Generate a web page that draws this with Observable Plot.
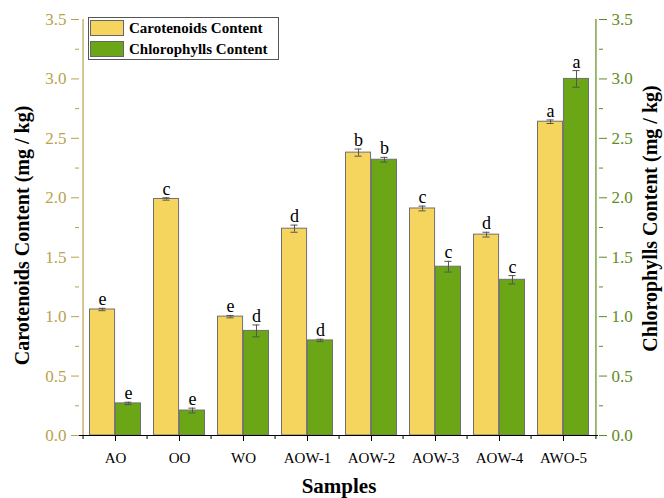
<!DOCTYPE html>
<html>
<head>
<meta charset="utf-8">
<script src="https://cdn.jsdelivr.net/npm/d3@7"></script>
<script src="https://cdn.jsdelivr.net/npm/@observablehq/plot@0.6"></script>
<style>
  body { margin: 0; background: #fff; }
  #wrap { position: relative; width: 664px; height: 498px; overflow: hidden; font-family: "Liberation Serif", "Times New Roman", serif; }
  #wrap svg { font-family: "Liberation Serif", "Times New Roman", serif; }
  .legend { position: absolute; left: 88px; top: 17px; width: 189px; height: 41px; border: 1.5px solid #555; background: #fff; }
  .legend .row { position: absolute; left: 1px; height: 18px; display: flex; align-items: center; }
  .legend .sw { width: 34px; height: 16px; border: 1px solid #666; box-sizing: border-box; margin-right: 5px; }
  .legend .lab { font-weight: bold; font-size: 15px; color: #000; white-space: nowrap; }
</style>
</head>
<body>
<div id="wrap"></div>
<script>
const samples = ["AO", "OO", "WO", "AOW-1", "AOW-2", "AOW-3", "AOW-4", "AWO-5"];
const carotenoids = [1.06, 1.99, 1.00, 1.74, 2.38, 1.91, 1.69, 2.64];
const carotenoidsErr = [0.01, 0.01, 0.01, 0.03, 0.03, 0.02, 0.02, 0.015];
const carotenoidsLetters = ["e", "c", "e", "d", "b", "c", "d", "a"];
const chlorophylls = [0.27, 0.21, 0.88, 0.80, 2.32, 1.42, 1.31, 3.00];
const chlorophyllsErr = [0.01, 0.02, 0.05, 0.01, 0.02, 0.045, 0.035, 0.07];
const chlorophyllsLetters = ["e", "e", "d", "d", "b", "c", "c", "a"];
const yTicks = [0, 0.5, 1.0, 1.5, 2.0, 2.5, 3.0, 3.5];
const yMinorTicks = [0.25, 0.75, 1.25, 1.75, 2.25, 2.75, 3.25];

const yellow = "#F5D55E";
const green = "#6AA616";
const gold = "#B9A24C";
const axisGreen = "#5E8C1C";
const barStroke = "#707070";

const rowsC = samples.map((s, i) => ({sample: s, value: carotenoids[i], err: carotenoidsErr[i], letter: carotenoidsLetters[i]}));
const rowsG = samples.map((s, i) => ({sample: s, value: chlorophylls[i], err: chlorophyllsErr[i], letter: chlorophyllsLetters[i]}));

const W = 664, H = 498, mL = 79, mR = 66, mT = 19, mB = 63;
const bw = (W - mL - mR) / samples.length;
const pad = 6.5, barW = bw / 2 - pad, cap = 4;
const cY = pad + barW / 2, cG = bw / 2 + barW / 2;

const chart = Plot.plot({
  width: W, height: H,
  marginLeft: mL, marginRight: mR, marginTop: mT, marginBottom: mB,
  style: {fontFamily: "Liberation Serif, Times New Roman, serif", background: "transparent"},
  x: {domain: samples, padding: 0},
  y: {domain: [0, 3.5]},
  marks: [
    Plot.barY(rowsC, {x: "sample", y: "value", fill: yellow, stroke: barStroke, strokeWidth: 1, insetLeft: pad, insetRight: bw - pad - barW}),
    Plot.barY(rowsG, {x: "sample", y: "value", fill: green, stroke: barStroke, strokeWidth: 1, insetLeft: bw / 2, insetRight: pad}),
    Plot.ruleX(rowsC, {x: "sample", y1: d => d.value - d.err, y2: d => d.value + d.err, dx: cY - bw / 2, stroke: "#555"}),
    Plot.ruleX(rowsG, {x: "sample", y1: d => d.value - d.err, y2: d => d.value + d.err, dx: cG - bw / 2, stroke: "#555"}),
    Plot.tickY(rowsC, {x: "sample", y: d => d.value + d.err, insetLeft: cY - cap, insetRight: bw - cY - cap, stroke: "#555"}),
    Plot.tickY(rowsC, {x: "sample", y: d => d.value - d.err, insetLeft: cY - cap, insetRight: bw - cY - cap, stroke: "#555"}),
    Plot.tickY(rowsG, {x: "sample", y: d => d.value + d.err, insetLeft: cG - cap, insetRight: bw - cG - cap, stroke: "#555"}),
    Plot.tickY(rowsG, {x: "sample", y: d => d.value - d.err, insetLeft: cG - cap, insetRight: bw - cG - cap, stroke: "#555"}),
    Plot.text(rowsC, {x: "sample", y: d => d.value + d.err, text: "letter", dx: cY - bw / 2, dy: -3, lineAnchor: "bottom", fontSize: 18, fill: "#000"}),
    Plot.text(rowsG, {x: "sample", y: d => d.value + d.err, text: "letter", dx: cG - bw / 2, dy: -3, lineAnchor: "bottom", fontSize: 18, fill: "#000"}),
    // x axis line and ticks
    Plot.ruleY([0], {stroke: "#000", strokeWidth: 1.2}),
    Plot.ruleX(samples, {x: d => d, y1: 0, y2: 0, dx: -bw / 2, insetBottom: -4, stroke: "#000"}),
    Plot.ruleX([samples[samples.length - 1]], {x: d => d, y1: 0, y2: 0, dx: bw / 2, insetBottom: -4, stroke: "#000"}),
    Plot.axisX({tickSize: 6, tickPadding: 11, fontSize: 15, label: null, color: "#000"}),
    // left y axis
    Plot.ruleX([samples[0]], {x: d => d, y1: 0, y2: 3.5, dx: -bw / 2, stroke: gold, strokeWidth: 1.2}),
    Plot.axisY(yTicks, {anchor: "left", tickSize: 8, tickPadding: 5, tickFormat: d3.format(".1f"), fontSize: 17, color: gold, label: null}),
    Plot.axisY(yMinorTicks, {anchor: "left", tickSize: 4, tickFormat: () => "", color: gold, label: null}),
    // right y axis
    Plot.ruleX([samples[samples.length - 1]], {x: d => d, y1: 0, y2: 3.5, dx: bw / 2, stroke: axisGreen, strokeWidth: 1.2}),
    Plot.axisY(yTicks, {anchor: "right", tickSize: 8, tickPadding: 5, tickFormat: d3.format(".1f"), fontSize: 17, color: axisGreen, label: null}),
    Plot.axisY(yMinorTicks, {anchor: "right", tickSize: 4, tickFormat: () => "", color: axisGreen, label: null}),
    // titles
    Plot.text(["Carotenoids Content (mg / kg)"], {frameAnchor: "left", textAnchor: "middle", dx: -57, dy: 8, rotate: -90, fontSize: 20, fontWeight: "bold", fill: "#000"}),
    Plot.text(["Chlorophylls Content (mg / kg)"], {frameAnchor: "right", textAnchor: "middle", dx: 52, dy: -9, rotate: -90, fontSize: 20, fontWeight: "bold", fill: "#000"}),
    Plot.text(["Samples"], {frameAnchor: "bottom", dy: 57, fontSize: 21, fontWeight: "bold", fill: "#000"})
  ]
});

const wrap = document.getElementById("wrap");
wrap.appendChild(chart);

const legendItems = [
  {label: "Carotenoids Content", color: yellow},
  {label: "Chlorophylls Content", color: green}
];
const legend = document.createElement("div");
legend.className = "legend";
legendItems.forEach((it, i) => {
  const row = document.createElement("div");
  row.className = "row";
  row.style.top = (1 + i * 21) + "px";
  const sw = document.createElement("div");
  sw.className = "sw";
  sw.style.background = it.color;
  const lab = document.createElement("span");
  lab.className = "lab";
  lab.textContent = it.label;
  row.appendChild(sw);
  row.appendChild(lab);
  legend.appendChild(row);
});
wrap.appendChild(legend);
</script>
</body>
</html>
